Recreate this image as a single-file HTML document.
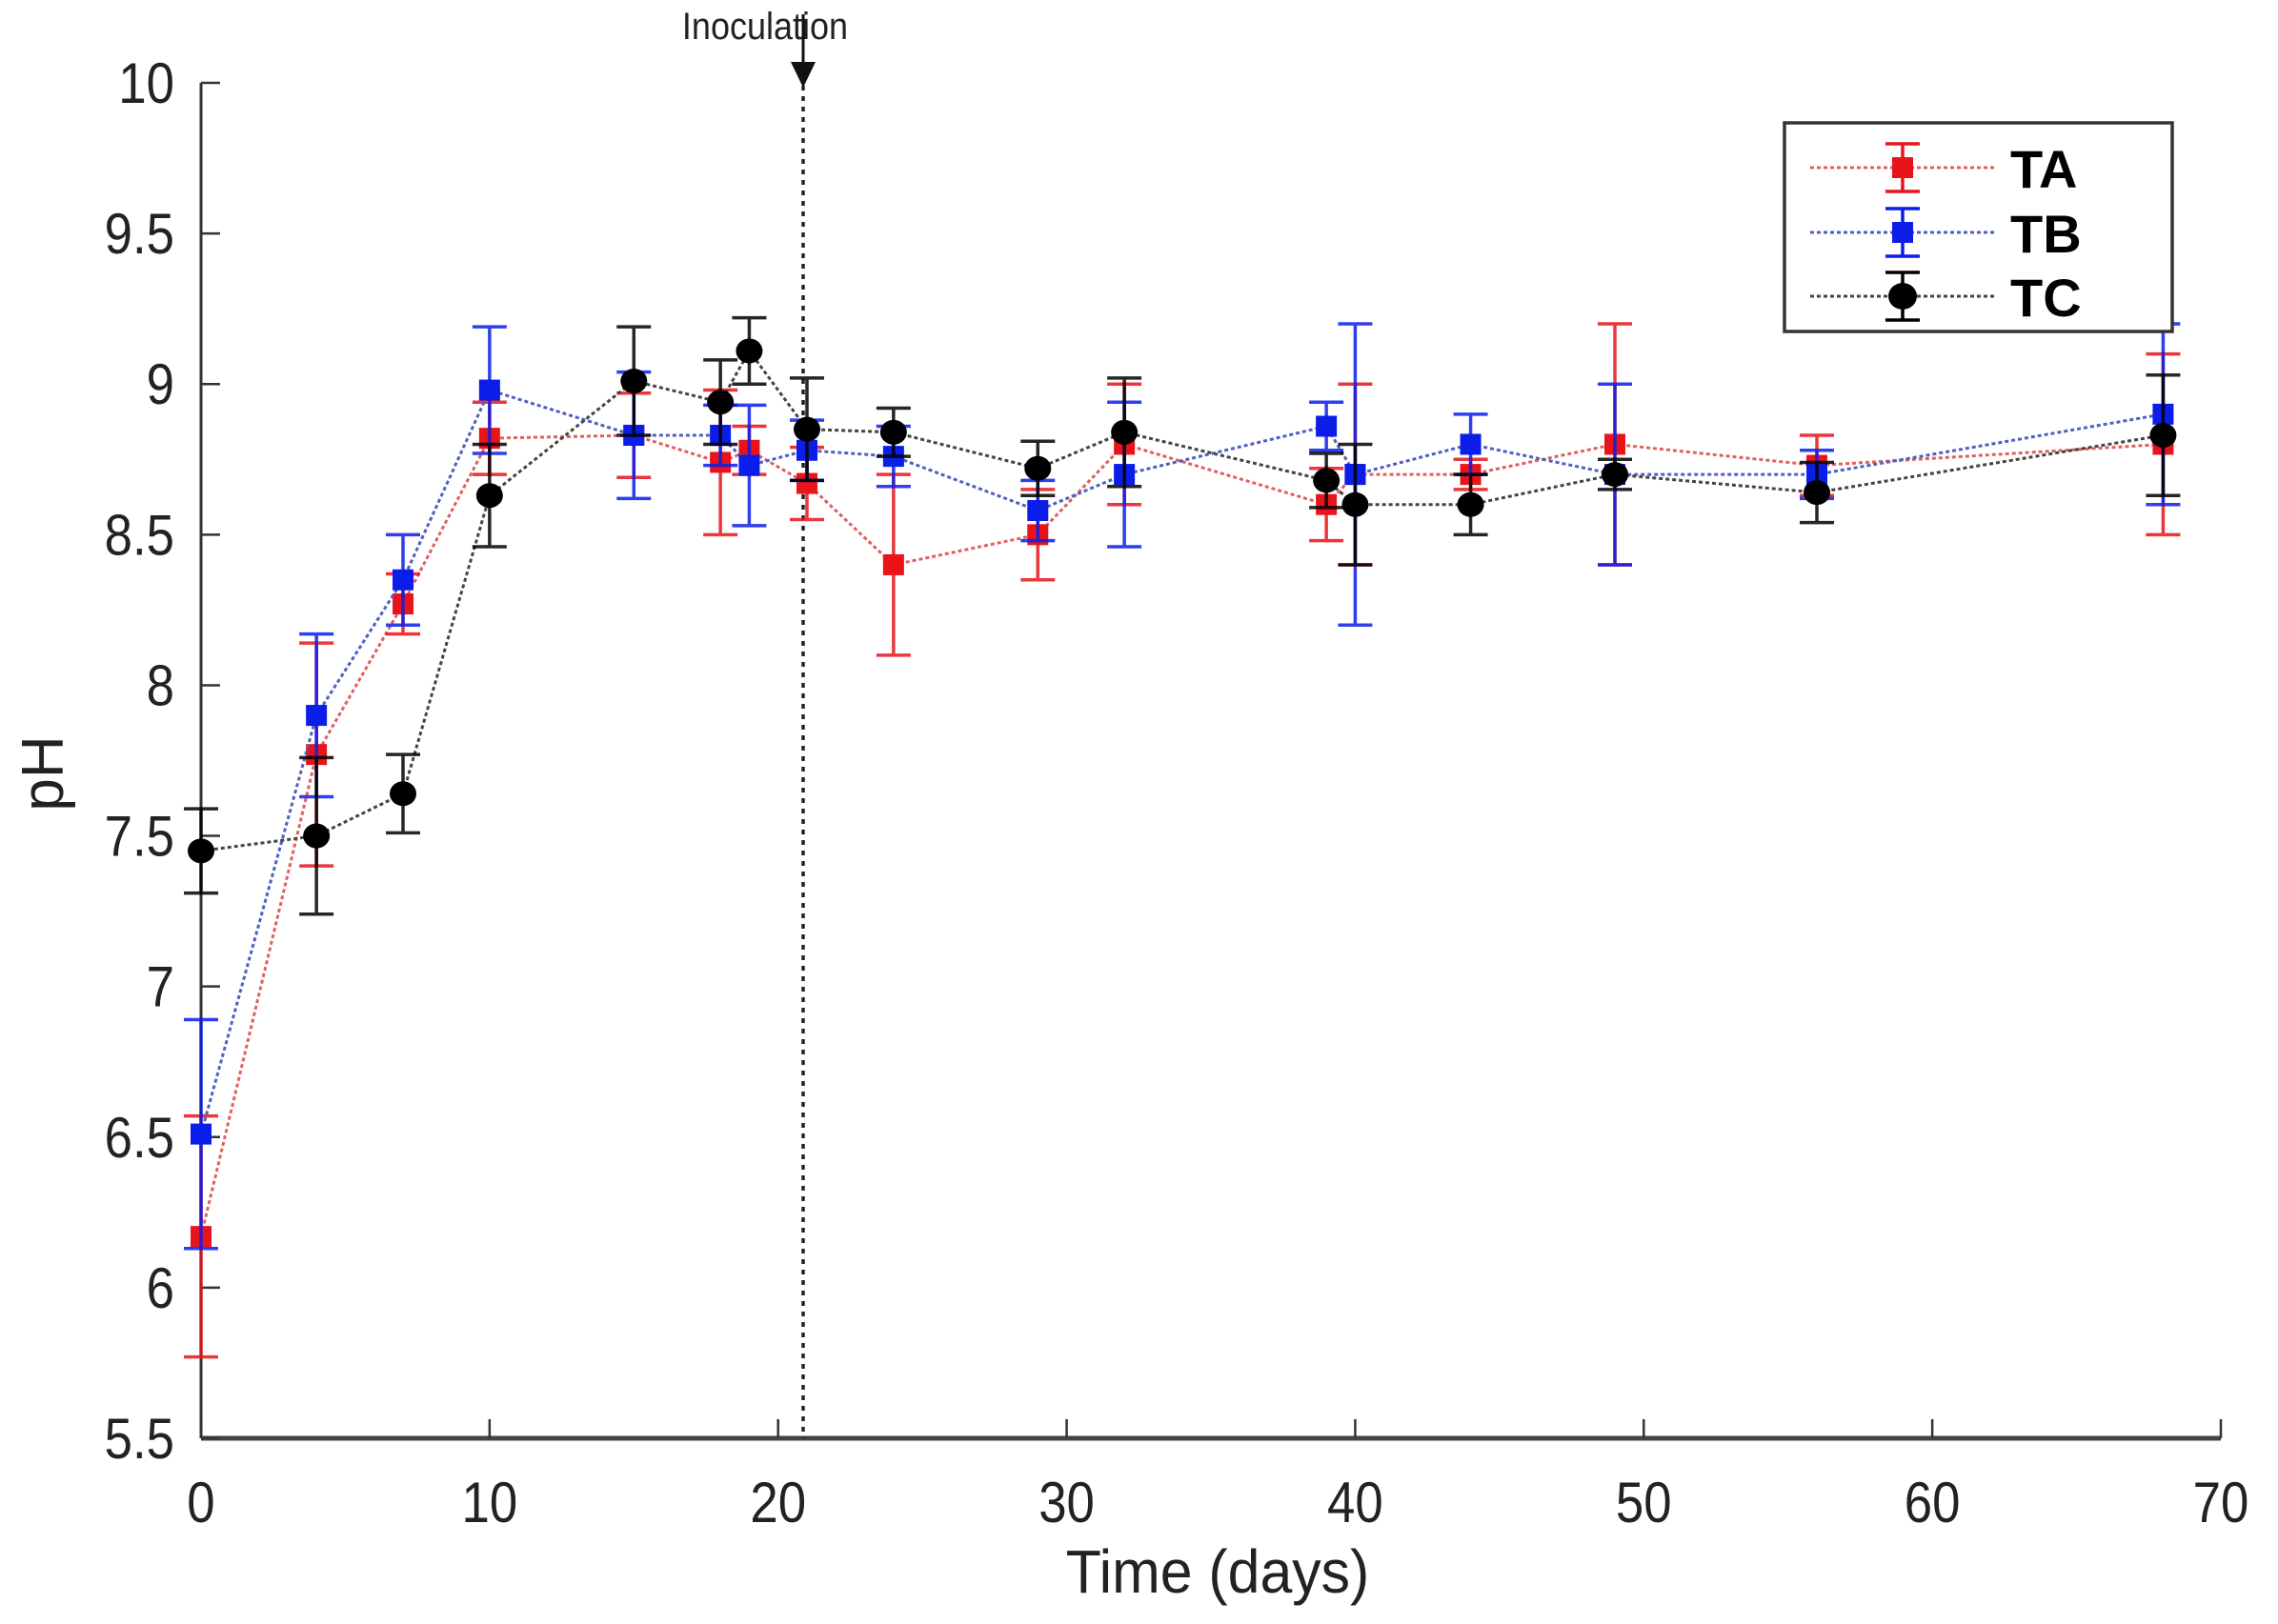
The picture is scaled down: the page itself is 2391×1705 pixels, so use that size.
<!DOCTYPE html>
<html><head><meta charset="utf-8"><style>
html,body{margin:0;padding:0;background:#fff}
svg{display:block}
text{font-family:"Liberation Sans",sans-serif}
</style></head><body>
<svg id="chart" width="2391" height="1705" viewBox="0 0 2391 1705" xmlns="http://www.w3.org/2000/svg">
<g id="axes"></g>
<g id="marks"></g>
<g id="legend"></g>
</svg>
<script>
const days = [0,4,7,10,15,18,19,21,24,29,32,39,40,44,49,56,68];
const taVals = [6.17,7.77,8.27,8.82,8.83,8.74,8.78,8.67,8.40,8.50,8.80,8.60,8.70,8.70,8.80,8.73,8.80];
const taErr  = [0.40,0.37,0.10,0.12,0.14,0.24,0.08,0.12,0.30,0.15,0.20,0.12,0.30,0.05,0.40,0.10,0.30];
const tbVals = [6.51,7.90,8.35,8.98,8.83,8.83,8.73,8.78,8.76,8.58,8.70,8.86,8.70,8.80,8.70,8.70,8.90];
const tbErr  = [0.38,0.27,0.15,0.21,0.21,0.10,0.20,0.10,0.10,0.10,0.24,0.08,0.50,0.10,0.30,0.08,0.30];
const tcVals = [7.45,7.50,7.64,8.63,9.01,8.94,9.11,8.85,8.84,8.72,8.84,8.68,8.60,8.60,8.70,8.64,8.83];
const tcErr  = [0.14,0.26,0.13,0.17,0.18,0.14,0.11,0.17,0.08,0.09,0.18,0.09,0.20,0.10,0.05,0.10,0.20];
const xTicks = [0,10,20,30,40,50,60,70];
const yTicks = [5.5,6,6.5,7,7.5,8,8.5,9,9.5,10];
const inoculationDay = 21;

const NS="http://www.w3.org/2000/svg";
const X0=211,X1=2331,Y0=1510,Y1=87;
const xs=v=>X0+(v-0)/(70-0)*(X1-X0);
const ys=v=>Y0-(v-5.5)/(10-5.5)*(Y0-Y1);
function mk(tag,attrs,parent,txt){const e=document.createElementNS(NS,tag);for(const k in attrs)e.setAttribute(k,attrs[k]);if(txt!==undefined)e.textContent=txt;parent.appendChild(e);return e;}
const axes=document.getElementById('axes'),marks=document.getElementById('marks'),legend=document.getElementById('legend');

let a=mk('line',{x1:X0,y1:Y1,x2:X0,y2:Y0,stroke:'#333','stroke-width':3},axes);

a=mk('line',{x1:X0,y1:Y0,x2:X1,y2:Y0,stroke:'#444','stroke-width':5},axes);

xTicks.forEach(t=>{
  const l=mk('line',{x1:xs(t),y1:Y0,x2:xs(t),y2:Y0-20,stroke:'#333','stroke-width':2.5},axes);
  
  const tx=mk('text',{x:xs(t),y:Y0+88,'font-size':60,'text-anchor':'middle',fill:'#222',transform:`translate(${xs(t)},0) scale(0.88,1) translate(${-xs(t)},0)`},axes,String(t));
  
});
yTicks.forEach(t=>{
  const l=mk('line',{x1:X0,y1:ys(t),x2:X0+20,y2:ys(t),stroke:'#333','stroke-width':2.5},axes);
  
  const tx=mk('text',{x:X0-28,y:ys(t)+21,'font-size':60,'text-anchor':'end',fill:'#222',transform:`translate(${X0-28},0) scale(0.88,1) translate(${-(X0-28)},0)`},axes,String(t));
  
});
let t=mk('text',{x:1278,y:1672,'font-size':64,'text-anchor':'middle',fill:'#222',transform:'translate(1278,0) scale(0.95,1) translate(-1278,0)'},axes,'Time (days)');

t=mk('text',{x:0,y:0,'font-size':62,'text-anchor':'middle',fill:'#222',transform:'translate(66,812) rotate(-90)'},axes,'pH');


const ix=xs(inoculationDay)-4;
a=mk('line',{x1:ix,y1:90,x2:ix,y2:Y0,stroke:'#222','stroke-width':3.5,'stroke-dasharray':'5,6'},axes);

a=mk('line',{x1:ix,y1:15,x2:ix,y2:70,stroke:'#111','stroke-width':3},axes);

a=mk('polygon',{points:`${ix-13},65 ${ix+13},65 ${ix},92`,fill:'#111'},axes);

t=mk('text',{x:803,y:41,'font-size':40,'text-anchor':'middle',fill:'#222',transform:'translate(803,0) scale(0.9,1) translate(-803,0)'},axes,'Inoculation');


const series=[
 {name:'ta',vals:taVals,err:taErr,color:'#e8141a',line:'#e06060',shape:'sq'},
 {name:'tb',vals:tbVals,err:tbErr,color:'#0b1de8',line:'#5060c0',shape:'sq'},
 {name:'tc',vals:tcVals,err:tcErr,color:'#000',line:'#444',shape:'circ'}
];
series.forEach(s=>{
  const g=mk('g',{},marks);
  
  const pts=days.map((d,i)=>xs(d)+','+ys(s.vals[i])).join(' ');
  const pl=mk('polyline',{points:pts,fill:'none',stroke:s.line,'stroke-width':3,'stroke-dasharray':'4,3'},g);
  
  days.forEach((d,i)=>{
    const x=xs(d),yl=ys(s.vals[i]-s.err[i]),yh=ys(s.vals[i]+s.err[i]);
    const eb=mk('path',{d:`M${x},${yl}V${yh}M${x-18},${yl}H${x+18}M${x-18},${yh}H${x+18}`,stroke:s.color,'stroke-width':3.5,fill:'none',opacity:0.85},g);
    
  });
  days.forEach((d,i)=>{
    const x=xs(d),y=ys(s.vals[i]);let m;
    if(s.shape==='sq')m=mk('rect',{x:x-11,y:y-11,width:22,height:22,fill:s.color},g);
    else m=mk('ellipse',{cx:x,cy:y,rx:14,ry:13,fill:s.color},g);
    
  });
});

a=mk('rect',{x:1873,y:129,width:407,height:219,fill:'#fff',stroke:'#333','stroke-width':3.5},legend);

const labels=['TA','TB','TC'];
series.forEach((s,i)=>{
  const y=[176,244,311][i];
  const g=mk('g',{},legend);
  
  mk('line',{x1:1900,y1:y,x2:2094,y2:y,stroke:s.line,'stroke-width':3,'stroke-dasharray':'4,3'},g);
  mk('path',{d:`M1997,${y-25}V${y+25}M1979,${y-25}H2015M1979,${y+25}H2015`,stroke:s.color,'stroke-width':3.5,fill:'none'},g);
  if(s.shape==='sq')mk('rect',{x:1986,y:y-11,width:22,height:22,fill:s.color},g);
  else mk('ellipse',{cx:1997,cy:y,rx:15,ry:14,fill:s.color},g);
  const tx=mk('text',{x:2110,y:y+21,'font-size':56,'font-weight':'bold',fill:'#000'},g,labels[i]);
  
});
</script>
</body></html>
